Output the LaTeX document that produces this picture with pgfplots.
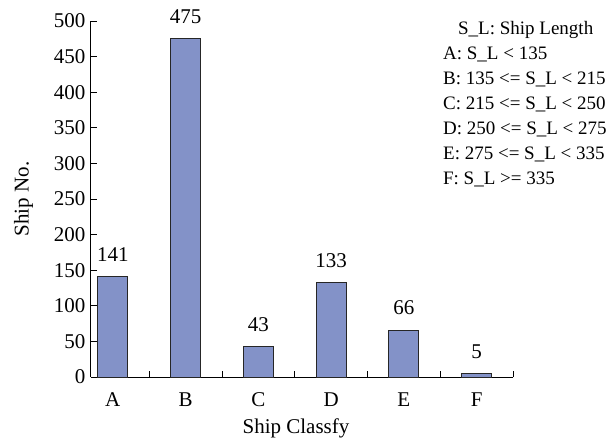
\documentclass[border=0pt]{standalone}
\usepackage{fontspec}
\setmainfont{Liberation Serif}
\usepackage{pgfplots}
\pgfplotsset{compat=1.18}
\definecolor{barblue}{RGB}{131,146,200}
\begin{document}
\begin{tikzpicture}[font=\fontsize{21}{25}\selectfont]
\path[use as bounding box] (-91pt,-65pt) rectangle (524pt,377pt);
\begin{axis}[
  scale only axis,
  width=422pt, height=356pt,
  xmin=-0.3, xmax=5.5,
  ymin=0, ymax=500,
  axis x line*=bottom, axis y line*=left,
  axis line style={black, line width=1pt},
  xtick={0,1,2,3,4,5},
  xticklabels={A,B,C,D,E,F},
  minor xtick={0.5,1.5,2.5,3.5,4.5,5.5},
  major x tick style={draw=none},
  minor tick length=6pt,
  major tick length=6pt,
  tick style={black, line width=0.8pt},
  tick align=inside,
  ytick={0,50,...,500},
  /pgf/number format/assume math mode=true,
  ticklabel style={font=\fontsize{21}{25}\selectfont},
  xticklabel style={yshift=-12pt},
  yticklabel style={xshift=-2pt},
  xlabel={Ship Classfy},
  ylabel={Ship No.},
  label style={font=\fontsize{21}{25}\selectfont},
  xlabel style={yshift=-5pt, xshift=-6pt},
  ylabel style={yshift=14pt},
  nodes near coords,
  every node near coord/.append style={font=\fontsize{21}{25}\selectfont, yshift=11pt},
  clip=false,
]
\addplot[ybar, bar width=30pt, fill=barblue, draw=black!85, line width=1pt]
  coordinates {(0,141) (1,475) (2,43) (3,133) (4,66) (5,5)};
\node[anchor=north west, align=left, font=\fontsize{19}{25}\selectfont, inner sep=0pt]
  at (rel axis cs:0.834,1.0) {\hspace*{15pt}S\_L: Ship Length\\A: S\_L < 135\\B: 135 <= S\_L < 215\\C: 215 <= S\_L < 250\\D: 250 <= S\_L < 275\\E: 275 <= S\_L < 335\\F: S\_L >= 335};
\end{axis}
\end{tikzpicture}
\end{document}
